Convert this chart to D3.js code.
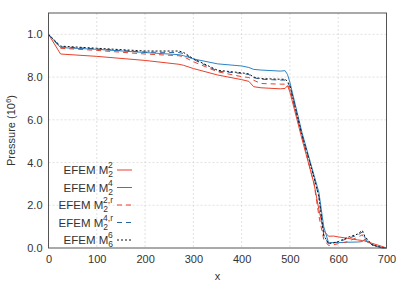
<!DOCTYPE html>
<html>
<head>
<meta charset="utf-8">
<script src="https://cdn.jsdelivr.net/npm/d3@7"></script>
<style>
  body { margin: 0; background: #fff; }
  text { font-family: "Liberation Sans", Arial, sans-serif; fill: #333; }
</style>
</head>
<body>
<svg id="chart"></svg>
<script>
// shared x positions
const xs = [0, 25, 100, 200, 270, 280, 300, 350, 400, 415, 425, 440, 480, 490, 495, 500, 525, 550, 560, 570, 580, 590, 600, 620, 640, 650, 655, 670, 690, 700];

const m22  = [10.0, 9.08, 8.97, 8.78, 8.6, 8.55, 8.4, 8.1, 7.88, 7.8, 7.55, 7.5, 7.45, 7.47, 7.6, 7.3, 5.1, 3.0, 1.8, 0.8, 0.55, 0.56, 0.52, 0.45, 0.38, 0.35, 0.33, 0.22, 0.08, 0.0];
const m24  = [10.0, 9.38, 9.3, 9.15, 9.05, 9.0, 8.85, 8.62, 8.52, 8.45, 8.36, 8.33, 8.28, 8.3, 8.12, 7.75, 5.4, 3.4, 2.6, 1.0, 0.25, 0.25, 0.25, 0.27, 0.28, 0.3, 0.42, 0.15, 0.0, 0.0];
const m22r = [10.0, 9.35, 9.25, 9.08, 9.0, 8.95, 8.72, 8.25, 8.02, 7.98, 7.85, 7.7, 7.67, 7.67, 7.62, 7.45, 5.2, 3.0, 1.5, 0.4, 0.12, 0.15, 0.2, 0.3, 0.5, 0.62, 0.35, 0.15, 0.03, 0.0];
const m24r = [10.0, 9.42, 9.32, 9.17, 9.15, 9.1, 8.83, 8.28, 8.17, 8.12, 7.97, 7.9, 7.86, 7.86, 7.75, 7.55, 5.3, 3.3, 2.4, 0.6, 0.2, 0.24, 0.28, 0.45, 0.6, 0.75, 0.5, 0.15, 0.02, 0.0];
const m66  = [10.0, 9.45, 9.35, 9.22, 9.22, 9.15, 8.86, 8.32, 8.2, 8.15, 8.0, 7.93, 7.9, 7.9, 7.8, 7.6, 5.3, 3.3, 2.4, 0.6, 0.2, 0.25, 0.3, 0.5, 0.65, 0.82, 0.55, 0.15, 0.02, 0.0];

const xTicks = [0, 100, 200, 300, 400, 500, 600, 700];
const yTicks = [0, 2, 4, 6, 8, 10];
const yTickLabels = ["0.0", "2.0", "4.0", "6.0", "8.0", "1.0"];

const series = [
  { sup: "2",   sub: "2", y: m22,  color: "#e8412c", dash: null },
  { sup: "4",   sub: "2", y: m24,  color: "#2b83c6", dash: null },
  { sup: "2,r", sub: "2", y: m22r, color: "#e8412c", dash: "5,4" },
  { sup: "4,r", sub: "2", y: m24r, color: "#2a64a0", dash: "5,4" },
  { sup: "6",   sub: "6", y: m66,  color: "#111",    dash: "2,2" }
];

const W = 407, H = 285;
const margin = { top: 13, right: 20.5, bottom: 37, left: 48.5 };
const width = W - margin.left - margin.right;
const height = H - margin.top - margin.bottom;
const fs = "11px";

const svg = d3.select("#chart").attr("width", W).attr("height", H);
const g = svg.append("g").attr("transform", `translate(${margin.left},${margin.top})`);

const x = d3.scaleLinear().domain([0, 700]).range([0, width]);
const y = d3.scaleLinear().domain([0, 11]).range([height, 0]);

// grid
g.selectAll(".vgrid").data(xTicks.slice(1, -1)).join("line")
  .attr("x1", d => x(d)).attr("x2", d => x(d))
  .attr("y1", 0).attr("y2", height)
  .attr("stroke", "#ccc").attr("stroke-width", 0.6).attr("stroke-dasharray", "2,2");
g.selectAll(".hgrid").data(yTicks.slice(1)).join("line")
  .attr("x1", 0).attr("x2", width)
  .attr("y1", d => y(d)).attr("y2", d => y(d))
  .attr("stroke", "#ccc").attr("stroke-width", 0.6).attr("stroke-dasharray", "2,2");

// axes
const xAxis = g.append("g").attr("transform", `translate(0,${height})`)
  .call(d3.axisBottom(x).tickValues(xTicks).tickSize(0).tickPadding(7).tickFormat(d3.format("d")));
const yAxis = g.append("g")
  .call(d3.axisLeft(y).tickValues(yTicks).tickSize(0).tickPadding(6).tickFormat((d, i) => yTickLabels[i]));
[xAxis, yAxis].forEach(a => {
  a.select(".domain").remove();
  a.selectAll("text").style("font-size", fs).style("font-family", "Liberation Sans, Arial, sans-serif").attr("fill", "#333");
});

// lines
const line = d3.line().x((d, i) => x(xs[i])).y(d => y(d));
series.forEach(s => {
  g.append("path")
    .datum(s.y)
    .attr("d", line)
    .attr("fill", "none")
    .attr("stroke", s.color)
    .attr("stroke-width", 1)
    .attr("stroke-dasharray", s.dash);
});

// frame
g.append("rect").attr("width", width).attr("height", height)
  .attr("fill", "none").attr("stroke", "#555").attr("stroke-width", 1);

// legend
const leg = svg.append("g");
series.forEach((s, i) => {
  const ly = 170 + i * 17.5;
  const t = leg.append("text").attr("x", 113).attr("y", ly + 4)
    .attr("text-anchor", "end").style("font-size", "11.5px");
  t.append("tspan").text("EFEM M");
  t.append("tspan").attr("dy", 3).style("font-size", "8.5px").text(s.sub);
  t.append("tspan").attr("dx", -5).attr("dy", -9).style("font-size", "8.5px").text(s.sup);
  leg.append("line").attr("x1", 117).attr("x2", 132).attr("y1", ly).attr("y2", ly)
    .attr("stroke", s.color).attr("stroke-width", 1).attr("stroke-dasharray", s.dash);
});

// axis labels
svg.append("text").attr("x", margin.left + width / 2).attr("y", 280)
  .attr("text-anchor", "middle").style("font-size", fs).text("x");
const yl = svg.append("text")
  .attr("transform", `translate(15,${margin.top + height / 2}) rotate(-90)`)
  .attr("text-anchor", "middle").style("font-size", fs);
yl.append("tspan").text("Pressure (10");
yl.append("tspan").attr("dy", -4).style("font-size", "8px").text("6");
yl.append("tspan").attr("dy", 4).text(")");
</script>
</body>
</html>
